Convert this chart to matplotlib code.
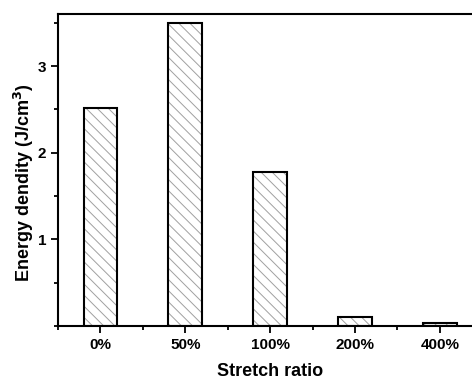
import matplotlib
matplotlib.use('Agg')
import matplotlib.pyplot as plt
from matplotlib.ticker import MultipleLocator

# Data
ratios = ['0%', '50%', '100%', '200%', '400%']
energy = [2.52, 3.50, 1.78, 0.11, 0.03]

plt.rcParams['font.family'] = ['Liberation Sans', 'DejaVu Sans']
plt.rcParams['font.weight'] = 'bold'
plt.rcParams['hatch.linewidth'] = 0.7

fig = plt.figure(figsize=(4.72, 3.8), dpi=100)
ax = fig.add_axes([0.123, 0.142, 0.877, 0.821])

x = range(len(ratios))
# grey hatch first, then the black outline on top
ax.bar(x, energy, width=0.4, color='white', edgecolor='#a0a0a0',
       linewidth=0, hatch='\\\\\\')
ax.bar(x, energy, width=0.4, fill=False, edgecolor='black', linewidth=1.5)

ax.set_xlim(-0.5, 4.38)
ax.set_ylim(0, 3.6)
ax.set_xticks(list(x))
ax.set_xticklabels(ratios)
ax.xaxis.set_minor_locator(MultipleLocator(0.5))
ax.set_yticks([1, 2, 3])
ax.yaxis.set_minor_locator(MultipleLocator(0.5))

ax.spines['right'].set_visible(False)
for s in ['left', 'bottom', 'top']:
    ax.spines[s].set_linewidth(1.5)

ax.tick_params(which='major', direction='out', length=5, width=1.3,
               labelsize=11)
ax.tick_params(which='minor', direction='out', length=3, width=1.3)
for lab in ax.get_xticklabels() + ax.get_yticklabels():
    lab.set_fontweight('bold')

ax.set_xlabel('Stretch ratio', fontsize=13, fontweight='bold')
ax.set_ylabel('Energy dendity (J/cm$^\\mathbf{3}$)', fontsize=13,
              fontweight='bold')
ax.xaxis.set_label_coords(0.512, -0.12)
ax.yaxis.set_label_coords(-0.053, 0.46)

fig.savefig('out.png', dpi=100)
